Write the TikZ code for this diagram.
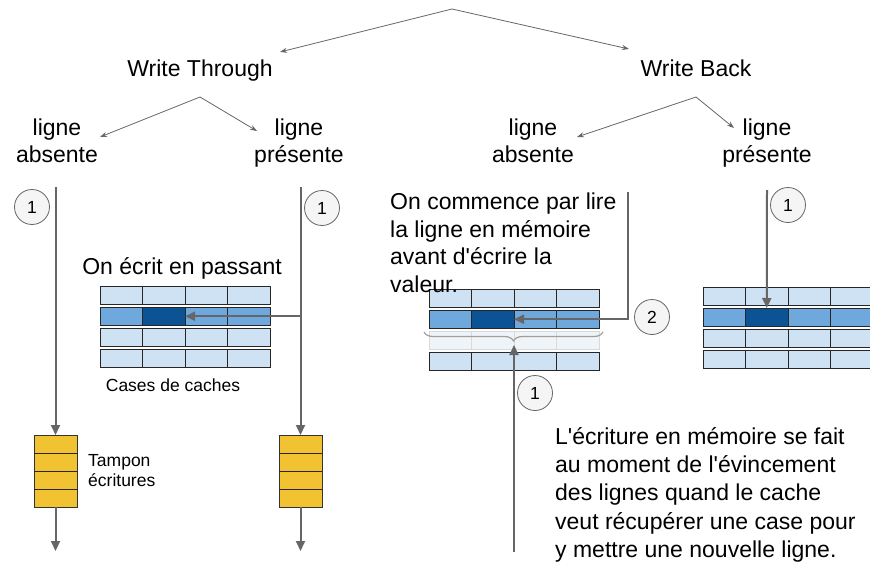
\documentclass[tikz,border=0pt]{standalone}
\usepackage{fontspec}
\setmainfont{Liberation Sans}
\usepackage{xcolor}
\usepackage{tikz}
\usetikzlibrary{arrows.meta, decorations.pathreplacing, positioning}

\definecolor{trait}{HTML}{666666}
\definecolor{clair}{HTML}{CFE2F3}
\definecolor{moyen}{HTML}{6FA8DC}
\definecolor{fonce}{HTML}{0B5394}
\definecolor{pale}{HTML}{EFF4F9}
\definecolor{jaune}{HTML}{F1C232}

\tikzset{
  titre/.style={font=\fontsize{23}{27.5}\selectfont, align=center, inner sep=0pt},
  texte/.style={font=\fontsize{23}{28.4}\selectfont, align=left, inner sep=0pt},
  petit/.style={font=\fontsize{17.5}{20}\selectfont, align=left, inner sep=0pt},
  branche/.style={draw=trait, line width=0.8pt, -{Stealth[length=7pt,width=5pt]}},
  flux/.style={draw=trait, line width=2pt, -{Triangle[length=10pt,width=9pt]}},
  numero/.style={circle, draw=trait, fill=gray!8, line width=0.8pt, minimum size=35pt,
    inner sep=0pt, font=\fontsize{17.5}{20}\selectfont},
  cellule/.style={draw=black!85, line width=0.8pt},
  cellfonce/.style={cellule, fill=fonce, minimum width=42.5pt, minimum height=18.5pt,
    inner sep=0pt, outer sep=0pt},
  tampon/.style={draw=black!80, fill=jaune, line width=0.8pt, minimum width=43pt,
    minimum height=72pt, inner sep=0pt, outer sep=0pt},
}

\begin{document}
\begin{tikzpicture}[x=1pt, y=-1pt]

    % =================================================================
    % 0. CADRE DE LA FIGURE
    % =================================================================
    \clip (0,0) rectangle (870,562);
    \fill[white] (0,0) rectangle (870,562);

    % Taille d'une case et pas entre deux lignes du cache
    \def\cw{42.5}
    \def\ch{18.5}
    \def\pas{21}
    \def\apos{\textquotesingle}

    % =================================================================
    % 1. ARBRE DES POLITIQUES D'ECRITURE
    % =================================================================
    \coordinate (racine) at (452,9);
    \node[titre, anchor=base] (wt) at (200,76) {Write Through};
    \node[titre, anchor=base] (wb) at (696,76) {Write Back};
    \coordinate (versWT) at (280,52);
    \coordinate (versWB) at (629,49);
    \draw[branche] (racine) -- (versWT);
    \draw[branche] (racine) -- (versWB);

    \node[titre, anchor=north] (absWT) at (57,118.5) {ligne\\absente};
    \node[titre, anchor=north] (preWT) at (299,118.5) {ligne\\présente};
    \node[titre, anchor=north] (absWB) at (533,118.5) {ligne\\absente};
    \node[titre, anchor=north] (preWB) at (767,118.5) {ligne\\présente};

    \coordinate (sousWT) at (200,97);
    \coordinate (sousWB) at (696,97);
    \coordinate (versAbsWT) at (100,137);
    \coordinate (versPreWT) at (257,131);
    \coordinate (versAbsWB) at (577,137);
    \coordinate (versPreWB) at (734,128);
    \draw[branche] (sousWT) -- (versAbsWT);
    \draw[branche] (sousWT) -- (versPreWT);
    \draw[branche] (sousWB) -- (versAbsWB);
    \draw[branche] (sousWB) -- (versPreWB);

    % =================================================================
    % 2. LES TROIS GRILLES DE CASES DE CACHE
    % =================================================================
    \foreach \gx/\gy/\g in {100/286/G, 429/289/M, 703/287/D} {
      \foreach \r in {0,...,3} {
        \foreach \c in {0,...,3} {
          \ifnum\r=1 \def\coul{moyen}\else\def\coul{clair}\fi
          \filldraw[cellule, fill=\coul] (\gx+\c*\cw, \gy+\r*\pas) rectangle ++(\cw,\ch);
        }
      }
      \node[cellfonce] (fonce\g) at (\gx+1.5*\cw, \gy+\pas+\ch/2) {};
    }

    % Ligne evincee (grille du milieu), presque effacee
    \foreach \c in {0,...,3}
      \filldraw[draw=gray!30, line width=0.8pt, fill=pale] (429+\c*\cw, 289+2*\pas) rectangle ++(\cw,\ch);

    % Accolade sous la ligne chargee
    \draw[draw=gray!75, line width=1.2pt, decorate,
      decoration={brace, amplitude=9pt, mirror}] (424,332) -- (603,332);

    % =================================================================
    % 3. TAMPONS D'ECRITURE
    % =================================================================
    \node[tampon] (tamponG) at (55.5,471) {};
    \node[tampon] (tamponP) at (300.5,471) {};
    \foreach \t in {G,P}
      \foreach \k in {1,2,3}
        \draw[cellule] (tampon\t.north west) ++(0,\k*18) -- ++(43,0);

    % =================================================================
    % 4. FLECHES DES FLUX D'ECRITURE
    % =================================================================
    % Write Through, ligne absente
    \coordinate (hautG) at (55.5,187);
    \coordinate (basG) at (55.5,551);
    \draw[flux] (hautG) -- (tamponG.north);
    \draw[flux] (tamponG.south) -- (basG);

    % Write Through, ligne presente
    \coordinate (hautP) at (300.5,187);
    \coordinate (basP) at (300.5,551);
    \coordinate (jonctionP) at (hautP |- fonceG.east);
    \draw[flux] (hautP) -- (tamponP.north);
    \draw[flux] (tamponP.south) -- (basP);
    \draw[flux] (jonctionP) -- (fonceG.east);

    % Write Back, ligne absente
    \coordinate (hautM) at (628,192);
    \coordinate (basM) at (514,552);
    \coordinate (pointeM) at (514,345);
    \draw[flux] (hautM) |- (fonceM.east);
    \draw[flux] (basM) -- (pointeM);

    % Write Back, ligne presente
    \coordinate (hautD) at (767,190);
    \draw[flux] (hautD) -- (fonceD.north);

    % =================================================================
    % 5. NUMEROS D'ETAPES ET TEXTES
    % =================================================================
    \node[numero] (n1G) at (32,207) {1};
    \node[numero] (n1P) at (322,208) {1};
    \node[numero] (n2M) at (652,317) {2};
    \node[numero] (n1M) at (535,393) {1};
    \node[numero] (n1D) at (788,205) {1};

    \node[titre, anchor=base] (passant) at (182,274) {On écrit en passant};
    \node[petit, anchor=base] (cases) at (173,391) {Cases de caches};
    \node[petit, anchor=north west] (legTampon) at (88,454) {Tampon\\écritures};
    \node[texte, anchor=north west, font=\fontsize{23}{27.4}\selectfont] (lecture) at (390,193)
      {On commence par lire\\la ligne en mémoire\\avant d\apos écrire la\\valeur.};
    \node[texte, anchor=north west] (eviction) at (555,427)
      {L\apos écriture en mémoire se fait\\au moment de l\apos évincement\\des lignes quand le cache\\veut récupérer une case pour\\y mettre une nouvelle ligne.};

\end{tikzpicture}
\end{document}
